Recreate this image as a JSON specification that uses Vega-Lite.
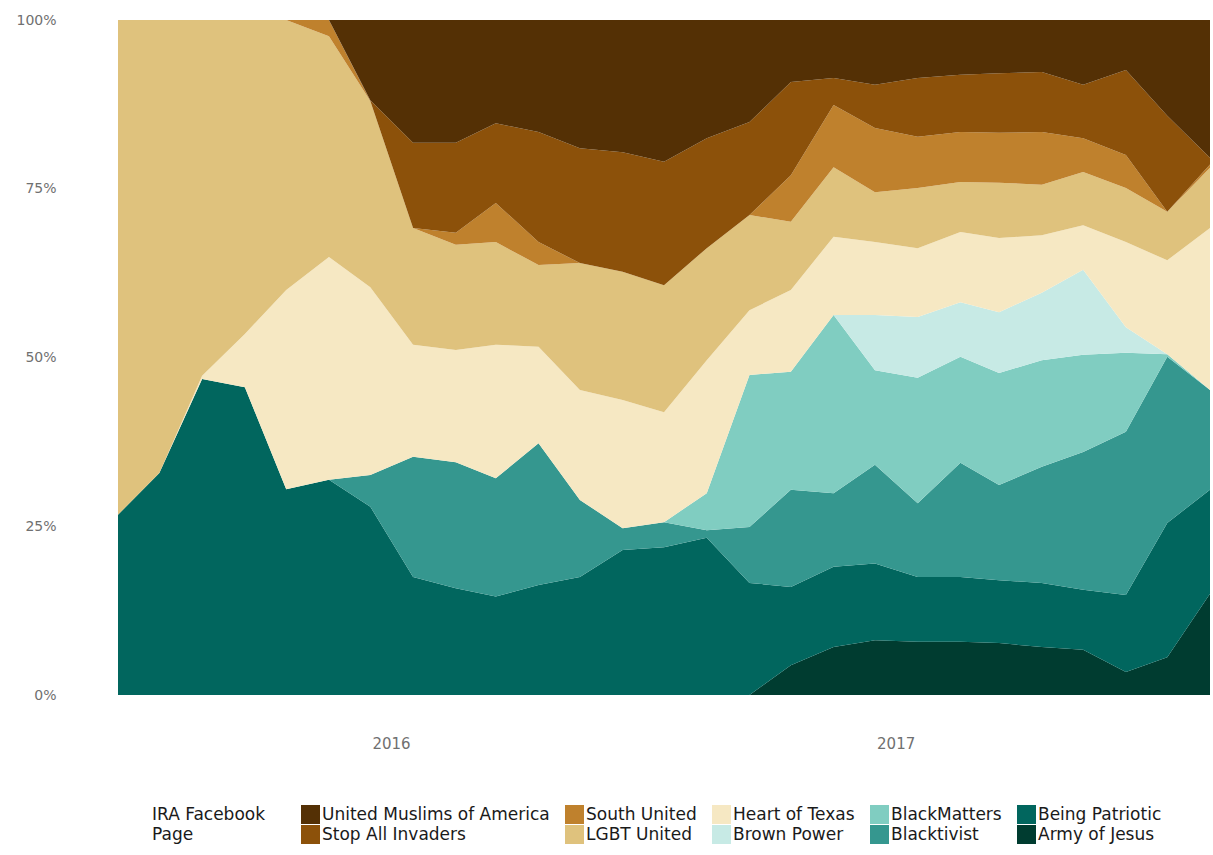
{
  "$schema": "https://vega.github.io/schema/vega-lite/v6.json",
  "width": 1092,
  "height": 675,
  "autosize": {"type": "none"},
  "padding": {"left": 118, "top": 20, "right": 3, "bottom": 160},
  "background": "white",
  "datasets": {
    "pages": [
      {"page": "Army of Jesus", "rank": 1},
      {"page": "Being Patriotic", "rank": 2},
      {"page": "Blacktivist", "rank": 3},
      {"page": "BlackMatters", "rank": 4},
      {"page": "Brown Power", "rank": 5},
      {"page": "Heart of Texas", "rank": 6},
      {"page": "LGBT United", "rank": 7},
      {"page": "South United", "rank": 8},
      {"page": "Stop All Invaders", "rank": 9},
      {"page": "United Muslims of America", "rank": 10}
    ]
  },
  "data": {
    "values": [
      {"month": "2015-06-17", "page": "Army of Jesus", "share": 0},
      {"month": "2015-06-17", "page": "Being Patriotic", "share": 26.7},
      {"month": "2015-06-17", "page": "Blacktivist", "share": 0},
      {"month": "2015-06-17", "page": "BlackMatters", "share": 0},
      {"month": "2015-06-17", "page": "Brown Power", "share": 0},
      {"month": "2015-06-17", "page": "Heart of Texas", "share": 0},
      {"month": "2015-06-17", "page": "LGBT United", "share": 73.3},
      {"month": "2015-06-17", "page": "South United", "share": 0},
      {"month": "2015-06-17", "page": "Stop All Invaders", "share": 0},
      {"month": "2015-06-17", "page": "United Muslims of America", "share": 0},

      {"month": "2015-07-17", "page": "Army of Jesus", "share": 0},
      {"month": "2015-07-17", "page": "Being Patriotic", "share": 32.9},
      {"month": "2015-07-17", "page": "Blacktivist", "share": 0},
      {"month": "2015-07-17", "page": "BlackMatters", "share": 0},
      {"month": "2015-07-17", "page": "Brown Power", "share": 0},
      {"month": "2015-07-17", "page": "Heart of Texas", "share": 0},
      {"month": "2015-07-17", "page": "LGBT United", "share": 67.1},
      {"month": "2015-07-17", "page": "South United", "share": 0},
      {"month": "2015-07-17", "page": "Stop All Invaders", "share": 0},
      {"month": "2015-07-17", "page": "United Muslims of America", "share": 0},

      {"month": "2015-08-17", "page": "Army of Jesus", "share": 0},
      {"month": "2015-08-17", "page": "Being Patriotic", "share": 46.8},
      {"month": "2015-08-17", "page": "Blacktivist", "share": 0},
      {"month": "2015-08-17", "page": "BlackMatters", "share": 0},
      {"month": "2015-08-17", "page": "Brown Power", "share": 0},
      {"month": "2015-08-17", "page": "Heart of Texas", "share": 0.5},
      {"month": "2015-08-17", "page": "LGBT United", "share": 52.7},
      {"month": "2015-08-17", "page": "South United", "share": 0},
      {"month": "2015-08-17", "page": "Stop All Invaders", "share": 0},
      {"month": "2015-08-17", "page": "United Muslims of America", "share": 0},

      {"month": "2015-09-17", "page": "Army of Jesus", "share": 0},
      {"month": "2015-09-17", "page": "Being Patriotic", "share": 45.6},
      {"month": "2015-09-17", "page": "Blacktivist", "share": 0},
      {"month": "2015-09-17", "page": "BlackMatters", "share": 0},
      {"month": "2015-09-17", "page": "Brown Power", "share": 0},
      {"month": "2015-09-17", "page": "Heart of Texas", "share": 7.9},
      {"month": "2015-09-17", "page": "LGBT United", "share": 46.5},
      {"month": "2015-09-17", "page": "South United", "share": 0},
      {"month": "2015-09-17", "page": "Stop All Invaders", "share": 0},
      {"month": "2015-09-17", "page": "United Muslims of America", "share": 0},

      {"month": "2015-10-17", "page": "Army of Jesus", "share": 0},
      {"month": "2015-10-17", "page": "Being Patriotic", "share": 30.5},
      {"month": "2015-10-17", "page": "Blacktivist", "share": 0},
      {"month": "2015-10-17", "page": "BlackMatters", "share": 0},
      {"month": "2015-10-17", "page": "Brown Power", "share": 0},
      {"month": "2015-10-17", "page": "Heart of Texas", "share": 29.5},
      {"month": "2015-10-17", "page": "LGBT United", "share": 40.0},
      {"month": "2015-10-17", "page": "South United", "share": 0},
      {"month": "2015-10-17", "page": "Stop All Invaders", "share": 0},
      {"month": "2015-10-17", "page": "United Muslims of America", "share": 0},

      {"month": "2015-11-17", "page": "Army of Jesus", "share": 0},
      {"month": "2015-11-17", "page": "Being Patriotic", "share": 31.9},
      {"month": "2015-11-17", "page": "Blacktivist", "share": 0},
      {"month": "2015-11-17", "page": "BlackMatters", "share": 0},
      {"month": "2015-11-17", "page": "Brown Power", "share": 0},
      {"month": "2015-11-17", "page": "Heart of Texas", "share": 33.0},
      {"month": "2015-11-17", "page": "LGBT United", "share": 32.7},
      {"month": "2015-11-17", "page": "South United", "share": 2.4},
      {"month": "2015-11-17", "page": "Stop All Invaders", "share": 0},
      {"month": "2015-11-17", "page": "United Muslims of America", "share": 0},

      {"month": "2015-12-17", "page": "Army of Jesus", "share": 0},
      {"month": "2015-12-17", "page": "Being Patriotic", "share": 27.9},
      {"month": "2015-12-17", "page": "Blacktivist", "share": 4.7},
      {"month": "2015-12-17", "page": "BlackMatters", "share": 0},
      {"month": "2015-12-17", "page": "Brown Power", "share": 0},
      {"month": "2015-12-17", "page": "Heart of Texas", "share": 27.8},
      {"month": "2015-12-17", "page": "LGBT United", "share": 27.6},
      {"month": "2015-12-17", "page": "South United", "share": 0},
      {"month": "2015-12-17", "page": "Stop All Invaders", "share": 0.1},
      {"month": "2015-12-17", "page": "United Muslims of America", "share": 11.9},

      {"month": "2016-01-17", "page": "Army of Jesus", "share": 0},
      {"month": "2016-01-17", "page": "Being Patriotic", "share": 17.5},
      {"month": "2016-01-17", "page": "Blacktivist", "share": 17.8},
      {"month": "2016-01-17", "page": "BlackMatters", "share": 0},
      {"month": "2016-01-17", "page": "Brown Power", "share": 0},
      {"month": "2016-01-17", "page": "Heart of Texas", "share": 16.6},
      {"month": "2016-01-17", "page": "LGBT United", "share": 17.3},
      {"month": "2016-01-17", "page": "South United", "share": 0},
      {"month": "2016-01-17", "page": "Stop All Invaders", "share": 12.6},
      {"month": "2016-01-17", "page": "United Muslims of America", "share": 18.2},

      {"month": "2016-02-17", "page": "Army of Jesus", "share": 0},
      {"month": "2016-02-17", "page": "Being Patriotic", "share": 15.8},
      {"month": "2016-02-17", "page": "Blacktivist", "share": 18.7},
      {"month": "2016-02-17", "page": "BlackMatters", "share": 0},
      {"month": "2016-02-17", "page": "Brown Power", "share": 0},
      {"month": "2016-02-17", "page": "Heart of Texas", "share": 16.6},
      {"month": "2016-02-17", "page": "LGBT United", "share": 15.6},
      {"month": "2016-02-17", "page": "South United", "share": 1.8},
      {"month": "2016-02-17", "page": "Stop All Invaders", "share": 13.3},
      {"month": "2016-02-17", "page": "United Muslims of America", "share": 18.2},

      {"month": "2016-03-17", "page": "Army of Jesus", "share": 0},
      {"month": "2016-03-17", "page": "Being Patriotic", "share": 14.6},
      {"month": "2016-03-17", "page": "Blacktivist", "share": 17.5},
      {"month": "2016-03-17", "page": "BlackMatters", "share": 0},
      {"month": "2016-03-17", "page": "Brown Power", "share": 0},
      {"month": "2016-03-17", "page": "Heart of Texas", "share": 19.8},
      {"month": "2016-03-17", "page": "LGBT United", "share": 15.2},
      {"month": "2016-03-17", "page": "South United", "share": 5.8},
      {"month": "2016-03-17", "page": "Stop All Invaders", "share": 11.8},
      {"month": "2016-03-17", "page": "United Muslims of America", "share": 15.3},

      {"month": "2016-04-17", "page": "Army of Jesus", "share": 0},
      {"month": "2016-04-17", "page": "Being Patriotic", "share": 16.3},
      {"month": "2016-04-17", "page": "Blacktivist", "share": 21.0},
      {"month": "2016-04-17", "page": "BlackMatters", "share": 0},
      {"month": "2016-04-17", "page": "Brown Power", "share": 0},
      {"month": "2016-04-17", "page": "Heart of Texas", "share": 14.3},
      {"month": "2016-04-17", "page": "LGBT United", "share": 12.1},
      {"month": "2016-04-17", "page": "South United", "share": 3.4},
      {"month": "2016-04-17", "page": "Stop All Invaders", "share": 16.3},
      {"month": "2016-04-17", "page": "United Muslims of America", "share": 16.6},

      {"month": "2016-05-17", "page": "Army of Jesus", "share": 0},
      {"month": "2016-05-17", "page": "Being Patriotic", "share": 17.5},
      {"month": "2016-05-17", "page": "Blacktivist", "share": 11.4},
      {"month": "2016-05-17", "page": "BlackMatters", "share": 0},
      {"month": "2016-05-17", "page": "Brown Power", "share": 0},
      {"month": "2016-05-17", "page": "Heart of Texas", "share": 16.3},
      {"month": "2016-05-17", "page": "LGBT United", "share": 18.8},
      {"month": "2016-05-17", "page": "South United", "share": 0},
      {"month": "2016-05-17", "page": "Stop All Invaders", "share": 17.0},
      {"month": "2016-05-17", "page": "United Muslims of America", "share": 19.0},

      {"month": "2016-06-17", "page": "Army of Jesus", "share": 0},
      {"month": "2016-06-17", "page": "Being Patriotic", "share": 21.5},
      {"month": "2016-06-17", "page": "Blacktivist", "share": 3.2},
      {"month": "2016-06-17", "page": "BlackMatters", "share": 0},
      {"month": "2016-06-17", "page": "Brown Power", "share": 0},
      {"month": "2016-06-17", "page": "Heart of Texas", "share": 19.0},
      {"month": "2016-06-17", "page": "LGBT United", "share": 19.0},
      {"month": "2016-06-17", "page": "South United", "share": 0},
      {"month": "2016-06-17", "page": "Stop All Invaders", "share": 17.7},
      {"month": "2016-06-17", "page": "United Muslims of America", "share": 19.6},

      {"month": "2016-07-17", "page": "Army of Jesus", "share": 0},
      {"month": "2016-07-17", "page": "Being Patriotic", "share": 21.9},
      {"month": "2016-07-17", "page": "Blacktivist", "share": 3.7},
      {"month": "2016-07-17", "page": "BlackMatters", "share": 0},
      {"month": "2016-07-17", "page": "Brown Power", "share": 0},
      {"month": "2016-07-17", "page": "Heart of Texas", "share": 16.3},
      {"month": "2016-07-17", "page": "LGBT United", "share": 18.8},
      {"month": "2016-07-17", "page": "South United", "share": 0},
      {"month": "2016-07-17", "page": "Stop All Invaders", "share": 18.3},
      {"month": "2016-07-17", "page": "United Muslims of America", "share": 21.0},

      {"month": "2016-08-17", "page": "Army of Jesus", "share": 0},
      {"month": "2016-08-17", "page": "Being Patriotic", "share": 23.3},
      {"month": "2016-08-17", "page": "Blacktivist", "share": 1.1},
      {"month": "2016-08-17", "page": "BlackMatters", "share": 5.5},
      {"month": "2016-08-17", "page": "Brown Power", "share": 0},
      {"month": "2016-08-17", "page": "Heart of Texas", "share": 19.7},
      {"month": "2016-08-17", "page": "LGBT United", "share": 16.6},
      {"month": "2016-08-17", "page": "South United", "share": 0},
      {"month": "2016-08-17", "page": "Stop All Invaders", "share": 16.3},
      {"month": "2016-08-17", "page": "United Muslims of America", "share": 17.5},

      {"month": "2016-09-17", "page": "Army of Jesus", "share": 0},
      {"month": "2016-09-17", "page": "Being Patriotic", "share": 16.6},
      {"month": "2016-09-17", "page": "Blacktivist", "share": 8.3},
      {"month": "2016-09-17", "page": "BlackMatters", "share": 22.5},
      {"month": "2016-09-17", "page": "Brown Power", "share": 0},
      {"month": "2016-09-17", "page": "Heart of Texas", "share": 9.6},
      {"month": "2016-09-17", "page": "LGBT United", "share": 14.1},
      {"month": "2016-09-17", "page": "South United", "share": 0},
      {"month": "2016-09-17", "page": "Stop All Invaders", "share": 13.8},
      {"month": "2016-09-17", "page": "United Muslims of America", "share": 15.1},

      {"month": "2016-10-17", "page": "Army of Jesus", "share": 4.4},
      {"month": "2016-10-17", "page": "Being Patriotic", "share": 11.6},
      {"month": "2016-10-17", "page": "Blacktivist", "share": 14.4},
      {"month": "2016-10-17", "page": "BlackMatters", "share": 17.5},
      {"month": "2016-10-17", "page": "Brown Power", "share": 0},
      {"month": "2016-10-17", "page": "Heart of Texas", "share": 12.1},
      {"month": "2016-10-17", "page": "LGBT United", "share": 10.1},
      {"month": "2016-10-17", "page": "South United", "share": 6.9},
      {"month": "2016-10-17", "page": "Stop All Invaders", "share": 13.8},
      {"month": "2016-10-17", "page": "United Muslims of America", "share": 9.2},

      {"month": "2016-11-17", "page": "Army of Jesus", "share": 7.1},
      {"month": "2016-11-17", "page": "Being Patriotic", "share": 11.9},
      {"month": "2016-11-17", "page": "Blacktivist", "share": 10.9},
      {"month": "2016-11-17", "page": "BlackMatters", "share": 26.4},
      {"month": "2016-11-17", "page": "Brown Power", "share": 0},
      {"month": "2016-11-17", "page": "Heart of Texas", "share": 11.6},
      {"month": "2016-11-17", "page": "LGBT United", "share": 10.3},
      {"month": "2016-11-17", "page": "South United", "share": 9.2},
      {"month": "2016-11-17", "page": "Stop All Invaders", "share": 4.0},
      {"month": "2016-11-17", "page": "United Muslims of America", "share": 8.6},

      {"month": "2016-12-17", "page": "Army of Jesus", "share": 8.1},
      {"month": "2016-12-17", "page": "Being Patriotic", "share": 11.4},
      {"month": "2016-12-17", "page": "Blacktivist", "share": 14.6},
      {"month": "2016-12-17", "page": "BlackMatters", "share": 14.0},
      {"month": "2016-12-17", "page": "Brown Power", "share": 8.2},
      {"month": "2016-12-17", "page": "Heart of Texas", "share": 10.8},
      {"month": "2016-12-17", "page": "LGBT United", "share": 7.4},
      {"month": "2016-12-17", "page": "South United", "share": 9.5},
      {"month": "2016-12-17", "page": "Stop All Invaders", "share": 6.4},
      {"month": "2016-12-17", "page": "United Muslims of America", "share": 9.6},

      {"month": "2017-01-17", "page": "Army of Jesus", "share": 7.9},
      {"month": "2017-01-17", "page": "Being Patriotic", "share": 9.6},
      {"month": "2017-01-17", "page": "Blacktivist", "share": 10.9},
      {"month": "2017-01-17", "page": "BlackMatters", "share": 18.6},
      {"month": "2017-01-17", "page": "Brown Power", "share": 9.0},
      {"month": "2017-01-17", "page": "Heart of Texas", "share": 10.2},
      {"month": "2017-01-17", "page": "LGBT United", "share": 8.9},
      {"month": "2017-01-17", "page": "South United", "share": 7.6},
      {"month": "2017-01-17", "page": "Stop All Invaders", "share": 8.7},
      {"month": "2017-01-17", "page": "United Muslims of America", "share": 8.6},

      {"month": "2017-02-17", "page": "Army of Jesus", "share": 7.9},
      {"month": "2017-02-17", "page": "Being Patriotic", "share": 9.6},
      {"month": "2017-02-17", "page": "Blacktivist", "share": 16.9},
      {"month": "2017-02-17", "page": "BlackMatters", "share": 15.7},
      {"month": "2017-02-17", "page": "Brown Power", "share": 8.1},
      {"month": "2017-02-17", "page": "Heart of Texas", "share": 10.4},
      {"month": "2017-02-17", "page": "LGBT United", "share": 7.4},
      {"month": "2017-02-17", "page": "South United", "share": 7.4},
      {"month": "2017-02-17", "page": "Stop All Invaders", "share": 8.5},
      {"month": "2017-02-17", "page": "United Muslims of America", "share": 8.1},

      {"month": "2017-03-17", "page": "Army of Jesus", "share": 7.7},
      {"month": "2017-03-17", "page": "Being Patriotic", "share": 9.3},
      {"month": "2017-03-17", "page": "Blacktivist", "share": 14.1},
      {"month": "2017-03-17", "page": "BlackMatters", "share": 16.6},
      {"month": "2017-03-17", "page": "Brown Power", "share": 9.0},
      {"month": "2017-03-17", "page": "Heart of Texas", "share": 11.0},
      {"month": "2017-03-17", "page": "LGBT United", "share": 8.2},
      {"month": "2017-03-17", "page": "South United", "share": 7.4},
      {"month": "2017-03-17", "page": "Stop All Invaders", "share": 8.8},
      {"month": "2017-03-17", "page": "United Muslims of America", "share": 7.9},

      {"month": "2017-04-17", "page": "Army of Jesus", "share": 7.1},
      {"month": "2017-04-17", "page": "Being Patriotic", "share": 9.5},
      {"month": "2017-04-17", "page": "Blacktivist", "share": 17.2},
      {"month": "2017-04-17", "page": "BlackMatters", "share": 15.8},
      {"month": "2017-04-17", "page": "Brown Power", "share": 10.0},
      {"month": "2017-04-17", "page": "Heart of Texas", "share": 8.5},
      {"month": "2017-04-17", "page": "LGBT United", "share": 7.5},
      {"month": "2017-04-17", "page": "South United", "share": 7.8},
      {"month": "2017-04-17", "page": "Stop All Invaders", "share": 8.9},
      {"month": "2017-04-17", "page": "United Muslims of America", "share": 7.7},

      {"month": "2017-05-17", "page": "Army of Jesus", "share": 6.7},
      {"month": "2017-05-17", "page": "Being Patriotic", "share": 8.9},
      {"month": "2017-05-17", "page": "Blacktivist", "share": 20.4},
      {"month": "2017-05-17", "page": "BlackMatters", "share": 14.4},
      {"month": "2017-05-17", "page": "Brown Power", "share": 12.6},
      {"month": "2017-05-17", "page": "Heart of Texas", "share": 6.6},
      {"month": "2017-05-17", "page": "LGBT United", "share": 7.9},
      {"month": "2017-05-17", "page": "South United", "share": 5.0},
      {"month": "2017-05-17", "page": "Stop All Invaders", "share": 7.9},
      {"month": "2017-05-17", "page": "United Muslims of America", "share": 9.6},

      {"month": "2017-06-17", "page": "Army of Jesus", "share": 3.4},
      {"month": "2017-06-17", "page": "Being Patriotic", "share": 11.4},
      {"month": "2017-06-17", "page": "Blacktivist", "share": 24.2},
      {"month": "2017-06-17", "page": "BlackMatters", "share": 11.7},
      {"month": "2017-06-17", "page": "Brown Power", "share": 3.8},
      {"month": "2017-06-17", "page": "Heart of Texas", "share": 12.6},
      {"month": "2017-06-17", "page": "LGBT United", "share": 8.0},
      {"month": "2017-06-17", "page": "South United", "share": 4.9},
      {"month": "2017-06-17", "page": "Stop All Invaders", "share": 12.6},
      {"month": "2017-06-17", "page": "United Muslims of America", "share": 7.4},

      {"month": "2017-07-17", "page": "Army of Jesus", "share": 5.6},
      {"month": "2017-07-17", "page": "Being Patriotic", "share": 19.9},
      {"month": "2017-07-17", "page": "Blacktivist", "share": 24.6},
      {"month": "2017-07-17", "page": "BlackMatters", "share": 0.4},
      {"month": "2017-07-17", "page": "Brown Power", "share": 0},
      {"month": "2017-07-17", "page": "Heart of Texas", "share": 13.9},
      {"month": "2017-07-17", "page": "LGBT United", "share": 7.2},
      {"month": "2017-07-17", "page": "South United", "share": 0},
      {"month": "2017-07-17", "page": "Stop All Invaders", "share": 14.2},
      {"month": "2017-07-17", "page": "United Muslims of America", "share": 14.2},

      {"month": "2017-08-17", "page": "Army of Jesus", "share": 15.0},
      {"month": "2017-08-17", "page": "Being Patriotic", "share": 15.4},
      {"month": "2017-08-17", "page": "Blacktivist", "share": 14.8},
      {"month": "2017-08-17", "page": "BlackMatters", "share": 0},
      {"month": "2017-08-17", "page": "Brown Power", "share": 0},
      {"month": "2017-08-17", "page": "Heart of Texas", "share": 24.0},
      {"month": "2017-08-17", "page": "LGBT United", "share": 8.9},
      {"month": "2017-08-17", "page": "South United", "share": 0.5},
      {"month": "2017-08-17", "page": "Stop All Invaders", "share": 1.0},
      {"month": "2017-08-17", "page": "United Muslims of America", "share": 20.4}
    ]
  },
  "transform": [
    {"lookup": "page", "from": {"data": {"name": "pages"}, "key": "page", "fields": ["rank"]}}
  ],
  "mark": {"type": "area", "interpolate": "linear"},
  "encoding": {
    "x": {
      "field": "month",
      "type": "temporal",
      "scale": {"type": "utc", "nice": false},
      "axis": {
        "title": null,
        "values": [
          {"year": 2016, "month": 1, "date": 1, "utc": true},
          {"year": 2017, "month": 1, "date": 1, "utc": true}
        ],
        "format": "%Y",
        "domain": false,
        "ticks": false,
        "grid": false,
        "labelPadding": 41,
        "labelFontSize": 15,
        "labelColor": "#707070",
        "labelFlush": false
      }
    },
    "y": {
      "field": "share",
      "type": "quantitative",
      "stack": "normalize",
      "axis": {
        "title": null,
        "values": [0, 0.25, 0.5, 0.75, 1],
        "format": ".0%",
        "domain": false,
        "ticks": false,
        "grid": false,
        "labelPadding": 62,
        "labelFontSize": 14,
        "labelColor": "#707070"
      }
    },
    "color": {
      "field": "page",
      "type": "nominal",
      "scale": {
        "domain": ["United Muslims of America", "South United", "Heart of Texas", "BlackMatters", "Being Patriotic", "Stop All Invaders", "LGBT United", "Brown Power", "Blacktivist", "Army of Jesus"],
        "range": ["#543005", "#bf812d", "#f6e8c3", "#80cdc1", "#01665e", "#8c510a", "#dfc27d", "#c7eae5", "#35978f", "#003c30"]
      },
      "legend": {
        "orient": "none",
        "legendX": 34,
        "legendY": 785,
        "direction": "horizontal",
        "columns": 5,
        "title": ["IRA Facebook", "Page"],
        "titleOrient": "left",
        "titleFontSize": 17,
        "titleFontWeight": "normal",
        "titleColor": "#1a1a1a",
        "titleLineHeight": 20,
        "titlePadding": 35,
        "labelFontSize": 17,
        "labelColor": "#1a1a1a",
        "labelLimit": 400,
        "labelOffset": 2,
        "symbolType": "square",
        "symbolSize": 361,
        "symbolStrokeWidth": 0,
        "symbolOpacity": 1,
        "columnPadding": 15,
        "rowPadding": 1
      }
    },
    "order": {"field": "rank", "type": "quantitative", "sort": "ascending"}
  },
  "config": {
    "font": "DejaVu Sans",
    "view": {"stroke": null}
  }
}
